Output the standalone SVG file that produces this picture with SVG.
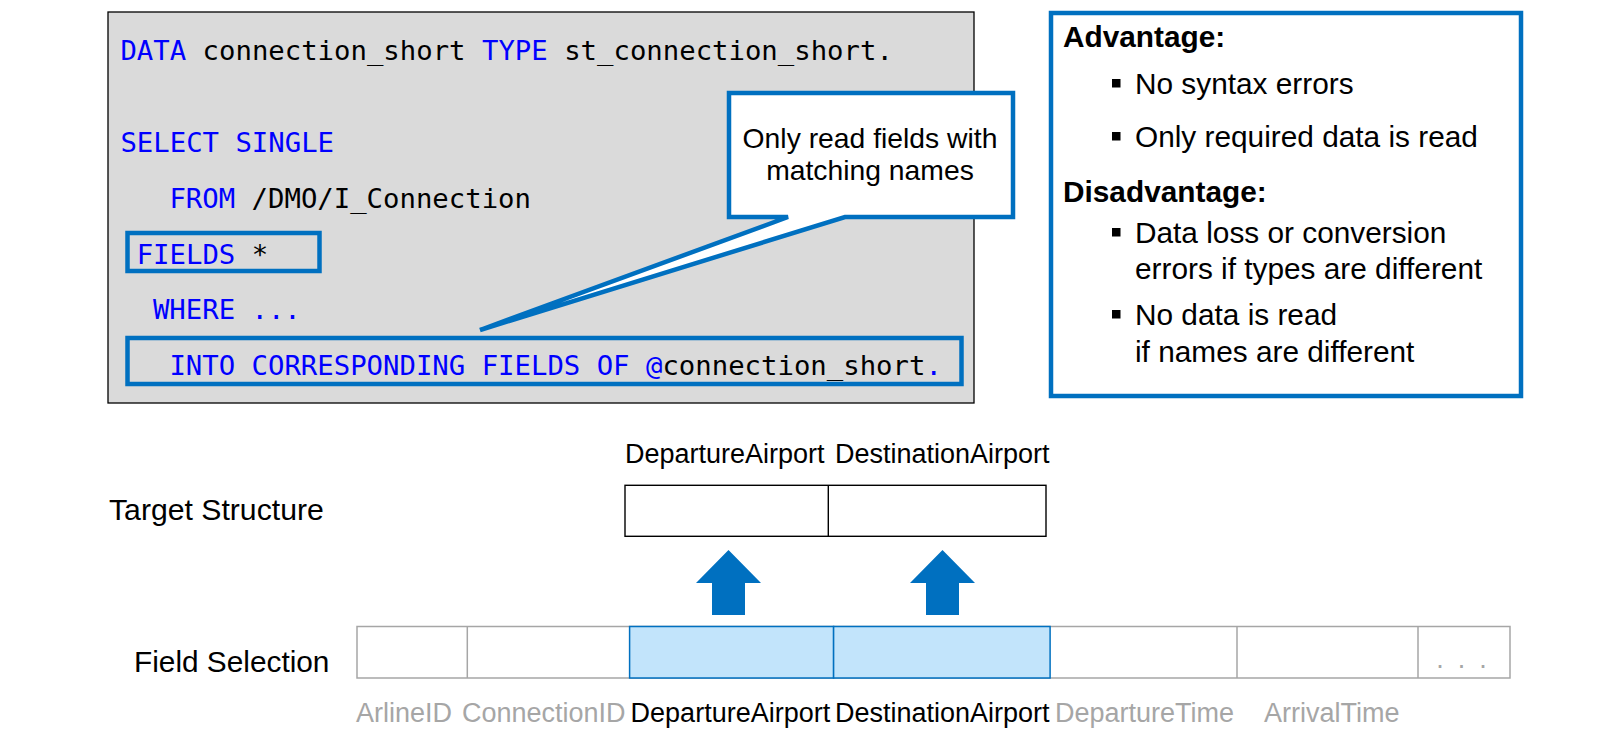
<svg xmlns="http://www.w3.org/2000/svg" width="1600" height="739" viewBox="0 0 1600 739">
<style>
.code{font-family:"DejaVu Sans Mono","Liberation Mono",monospace;font-size:27.3px;fill:#000}
.kw{fill:#0000ff}
.sans{font-family:"Liberation Sans",Arial,sans-serif;fill:#000}
.hl{fill:none;stroke:#0070c0;stroke-width:4.5}
.bul{fill:#000}
.grey{fill:#a6a6a6}
.cell{fill:#fff;stroke:#a6a6a6;stroke-width:1.5}
.div{stroke:#a6a6a6;stroke-width:1.5}
.sel{fill:#c2e4fb;stroke:#0070c0;stroke-width:1.5}
.arrow{fill:#0070c0}
</style>
<g id="code-box">
<rect x="108" y="12" width="866" height="391" fill="#dadada" stroke="#000" stroke-width="1.3"/>
<text class="code" x="120.4" y="60" xml:space="preserve"><tspan class="kw">DATA</tspan> connection_short <tspan class="kw">TYPE</tspan> st_connection_short.</text>
<text class="code kw" x="120.4" y="152">SELECT SINGLE</text>
<text class="code" x="169.4" y="208" xml:space="preserve"><tspan class="kw">FROM</tspan> /DMO/I_Connection</text>
<text class="code" x="136.7" y="264" xml:space="preserve"><tspan class="kw">FIELDS</tspan> *</text>
<text class="code kw" x="152.9" y="319">WHERE ...</text>
<text class="code" x="169.4" y="375" xml:space="preserve"><tspan class="kw">INTO CORRESPONDING FIELDS OF @</tspan>connection_short<tspan class="kw">.</tspan></text>
</g>
<g id="fields-highlight">
<rect class="hl" x="127.5" y="233" width="192" height="38"/>
</g>
<g id="into-highlight">
<rect class="hl" x="127.5" y="338" width="834" height="46"/>
</g>
<g id="callout">
<path d="M729,93 H1013 V217 H845 L480,330 L788,217 H729 Z" fill="#fff" stroke="#0070c0" stroke-width="4.5" stroke-linejoin="miter"/>
<text class="sans" x="870" y="148" font-size="28.3" text-anchor="middle">Only read fields with</text>
<text class="sans" x="870" y="180" font-size="28.3" text-anchor="middle">matching names</text>
</g>
<g id="pros-cons">
<rect x="1051" y="13" width="470" height="383" fill="#fff" stroke="#0070c0" stroke-width="4.5"/>
<g class="sans" font-size="29.8">
<text x="1063" y="47" font-weight="bold">Advantage:</text>
<rect class="bul" x="1112" y="79" width="8.5" height="8.5"/>
<text x="1135" y="94">No syntax errors</text>
<rect class="bul" x="1112" y="132" width="8.5" height="8.5"/>
<text x="1135" y="147">Only required data is read</text>
<text x="1063" y="202" font-weight="bold">Disadvantage:</text>
<rect class="bul" x="1112" y="228" width="8.5" height="8.5"/>
<text x="1135" y="243">Data loss or conversion</text>
<text x="1135" y="279">errors if types are different</text>
<rect class="bul" x="1112" y="310" width="8.5" height="8.5"/>
<text x="1135" y="325">No data is read</text>
<text x="1135" y="362">if names are different</text>
</g>
</g>
<g id="target-structure">
<text class="sans" x="109" y="520" font-size="30.2">Target Structure</text>
<text class="sans" x="625" y="463" font-size="27">DepartureAirport</text>
<text class="sans" x="835" y="463" font-size="27">DestinationAirport</text>
<rect x="625" y="485.3" width="421" height="51" fill="#fff" stroke="#000" stroke-width="1.4"/>
<line x1="828.3" y1="485.3" x2="828.3" y2="536.3" stroke="#000" stroke-width="1.4"/>
</g>
<g id="connectors">
<polygon class="arrow" points="728.5,550 761,583 745,583 745,615 712,615 712,583 696,583"/>
<polygon class="arrow" points="942.5,550 975,583 959,583 959,615 926,615 926,583 910,583"/>
</g>
<g id="field-selection">
<text class="sans" x="134" y="672" font-size="29.8">Field Selection</text>
<rect class="cell" x="357" y="626.5" width="1153" height="51.5"/>
<line class="div" x1="467.3" y1="626.5" x2="467.3" y2="678"/>
<line class="div" x1="1237" y1="626.5" x2="1237" y2="678"/>
<line class="div" x1="1418" y1="626.5" x2="1418" y2="678"/>
<rect class="sel" x="629.6" y="626.5" width="204" height="51.5"/>
<rect class="sel" x="833.6" y="626.5" width="216.5" height="51.5"/>
<text class="sans grey" x="1440" y="668" font-size="27" text-anchor="middle">.</text>
<text class="sans grey" x="1461.5" y="668" font-size="27" text-anchor="middle">.</text>
<text class="sans grey" x="1483" y="668" font-size="27" text-anchor="middle">.</text>
<g class="sans" font-size="27">
<text class="grey" x="356" y="722">ArlineID</text>
<text class="grey" x="462" y="722">ConnectionID</text>
<text x="630.6" y="722">DepartureAirport</text>
<text x="835" y="722">DestinationAirport</text>
<text class="grey" x="1055" y="722">DepartureTime</text>
<text class="grey" x="1264" y="722">ArrivalTime</text>
</g>
</g>
</svg>
